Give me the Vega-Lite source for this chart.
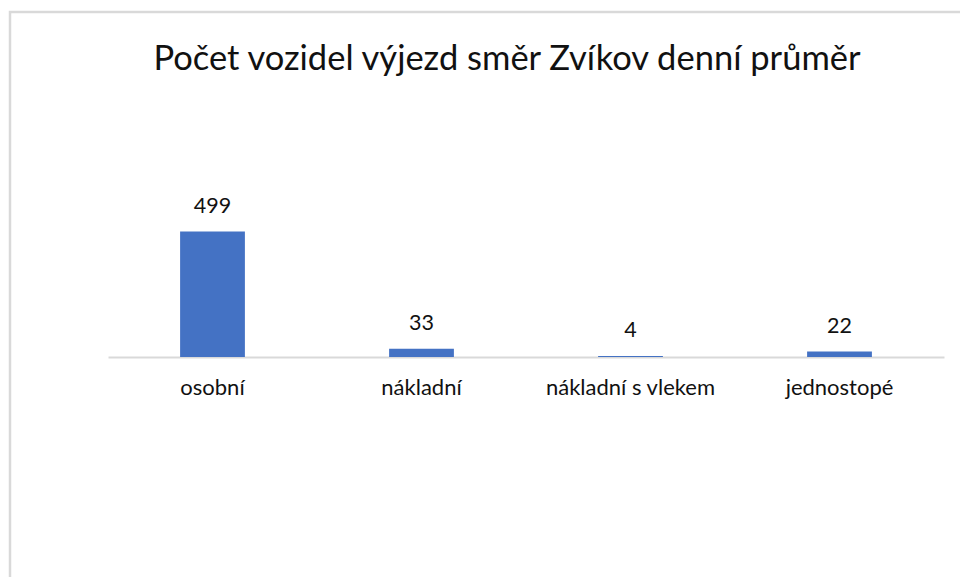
{
  "$schema": "https://vega.github.io/schema/vega-lite/v6.json",
  "width": 953,
  "height": 568,
  "autosize": {"type": "none"},
  "padding": {"left": 10, "top": 12, "right": 0, "bottom": 0},
  "background": "white",
  "config": {"view": {"stroke": "#d9d9d9", "strokeWidth": 2.5}, "font": "Lato"},
  "title": {
    "text": "Počet vozidel výjezd směr Zvíkov denní průměr",
    "font": "Lato",
    "fontSize": 34.5,
    "fontWeight": "normal",
    "color": "#111111",
    "anchor": "middle",
    "baseline": "alphabetic",
    "offset": 0,
    "dx": 20.5,
    "dy": 92
  },
  "data": {
    "values": [
      {"typ": "osobní", "pocet": 499},
      {"typ": "nákladní", "pocet": 33},
      {"typ": "nákladní s vlekem", "pocet": 4},
      {"typ": "jednostopé", "pocet": 22}
    ]
  },
  "encoding": {
    "x": {
      "field": "typ",
      "type": "nominal",
      "sort": null,
      "scale": {"range": [98, 934], "paddingInner": 0.69, "paddingOuter": 0.345},
      "axis": {
        "orient": "bottom",
        "offset": -223,
        "title": null,
        "ticks": false,
        "labelAngle": 0,
        "labelFont": "Lato",
        "labelFontSize": 22,
        "labelColor": "#111111",
        "labelPadding": 20,
        "domainColor": "#d9d9d9",
        "domainWidth": 2
      }
    }
  },
  "layer": [
    {
      "mark": {"type": "bar", "color": "#4472c4"},
      "encoding": {
        "y": {
          "field": "pocet",
          "type": "quantitative",
          "scale": {"domain": [0, 499], "range": [345, 219.5], "nice": false, "zero": true},
          "axis": null
        }
      }
    },
    {
      "mark": {"type": "text", "dy": -24.5, "baseline": "middle", "fontSize": 21.5, "font": "Lato", "color": "#111111"},
      "encoding": {
        "y": {"field": "pocet", "type": "quantitative"},
        "text": {"field": "pocet", "type": "quantitative"}
      }
    }
  ]
}
